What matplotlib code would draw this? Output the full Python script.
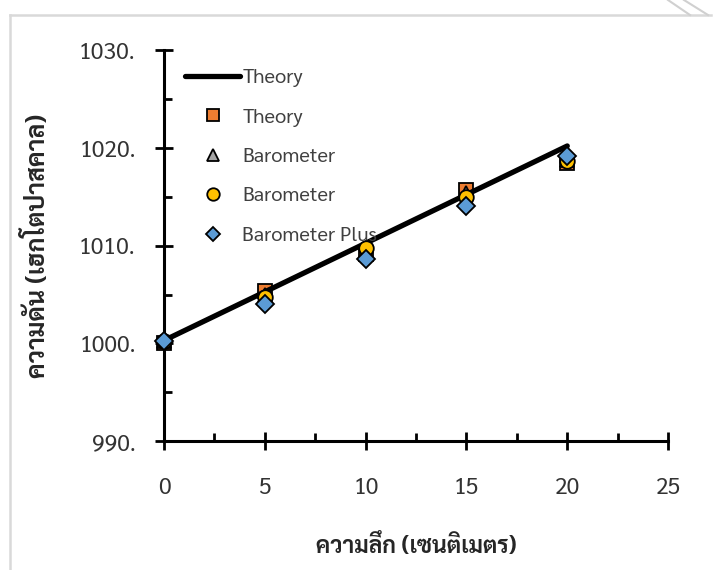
import matplotlib
matplotlib.use('Agg')
import matplotlib.pyplot as plt
from matplotlib.ticker import MultipleLocator, FormatStrFormatter
from matplotlib.lines import Line2D

plt.rcParams['font.family'] = ['Sarabun', 'DejaVu Sans']

# data
depth = [0, 5, 10, 15, 20]
theory_line = [1000.3, 1020.2]
theory_pts = [1000.0, 1005.4, 1009.1, 1015.7, 1018.5]
baro_tri = [1000.2, 1005.0, 1009.4, 1015.4, 1018.8]
baro_circ = [1000.2, 1004.8, 1009.8, 1015.0, 1018.7]
baro_plus = [1000.2, 1004.0, 1008.6, 1014.1, 1019.2]

fig = plt.figure(figsize=(7.13, 5.7), dpi=100)
ax = fig.add_axes([0.230, 0.226, 0.707, 0.686])

# light frame round the chart
fig.add_artist(plt.Line2D([10/713, 711/713], [1-15/570, 1-15/570], color='#d9d9d9', lw=1.8))
fig.add_artist(plt.Line2D([10/713, 10/713], [1-15/570, 0], color='#d9d9d9', lw=1.8))
fig.add_artist(plt.Line2D([668/713, 690/713], [1, 1-15/570], color='#d0d0d0', lw=1.5))
fig.add_artist(plt.Line2D([684/713, 708/713], [1, 1-15/570], color='#d0d0d0', lw=1.5))

ms = 10.5
ax.plot(depth, theory_pts, 's', ms=ms, mfc='#ED7D31', mec='black', mew=1.3, zorder=3, clip_on=False)
ax.plot([depth[0], depth[-1]], theory_line, '-', color='black', lw=3.8, solid_capstyle='round', zorder=4, clip_on=False)
ax.plot(depth, baro_tri, '^', ms=ms, mfc='#A5A5A5', mec='black', mew=1.3, zorder=5, clip_on=False)
ax.plot(depth, baro_circ, 'o', ms=ms, mfc='#FFC000', mec='black', mew=1.3, zorder=6, clip_on=False)
ax.plot(depth, baro_plus, 'D', ms=9, mfc='#5B9BD5', mec='black', mew=1.3, zorder=7, clip_on=False)

ax.set_xlim(0, 25)
ax.set_ylim(990, 1030)
ax.xaxis.set_major_locator(MultipleLocator(5))
ax.xaxis.set_minor_locator(MultipleLocator(2.5))
ax.yaxis.set_major_locator(MultipleLocator(10))
ax.yaxis.set_minor_locator(MultipleLocator(5))
ax.yaxis.set_major_formatter(FormatStrFormatter('%d.'))

for s in ['top', 'right']:
    ax.spines[s].set_visible(False)
for s in ['left', 'bottom']:
    ax.spines[s].set_linewidth(2.2)
ax.tick_params(which='major', direction='inout', length=13, width=2, labelsize=16.5, colors='black', labelcolor='#333333')
ax.tick_params(which='minor', direction='in', length=6, width=2)
ax.tick_params(axis='x', which='major', pad=19)
ax.tick_params(axis='y', which='major', pad=14)
ax.set_facecolor('none')

ax.set_xlabel('ความลึก (เซนติเมตร)', fontsize=16.5, fontweight='bold', color='#262626', labelpad=25)
ax.set_ylabel('ความดัน (เฮกโตปาสคาล)', fontsize=18, fontweight='bold', color='#262626', labelpad=20)

handles = [
    Line2D([], [], color='black', lw=3.8, solid_capstyle='round'),
    Line2D([], [], ls='none', marker='s', ms=9, mfc='#ED7D31', mec='black', mew=1.3),
    Line2D([], [], ls='none', marker='^', ms=9, mfc='#A5A5A5', mec='black', mew=1.3),
    Line2D([], [], ls='none', marker='o', ms=9, mfc='#FFC000', mec='black', mew=1.3),
    Line2D([], [], ls='none', marker='D', ms=7.5, mfc='#5B9BD5', mec='black', mew=1.3),
]
labels = ['Theory', 'Theory', 'Barometer', 'Barometer', 'Barometer Plus']
leg = ax.legend(handles, labels, loc='upper left', bbox_to_anchor=(185/713, 1-69/570),
                bbox_transform=fig.transFigure, frameon=False, fontsize=14.5,
                handlelength=2.75, handletextpad=0.1, labelspacing=1.06, borderpad=0, borderaxespad=0)
for t in leg.get_texts():
    t.set_color('#404040')

fig.savefig('out.png', dpi=100)
